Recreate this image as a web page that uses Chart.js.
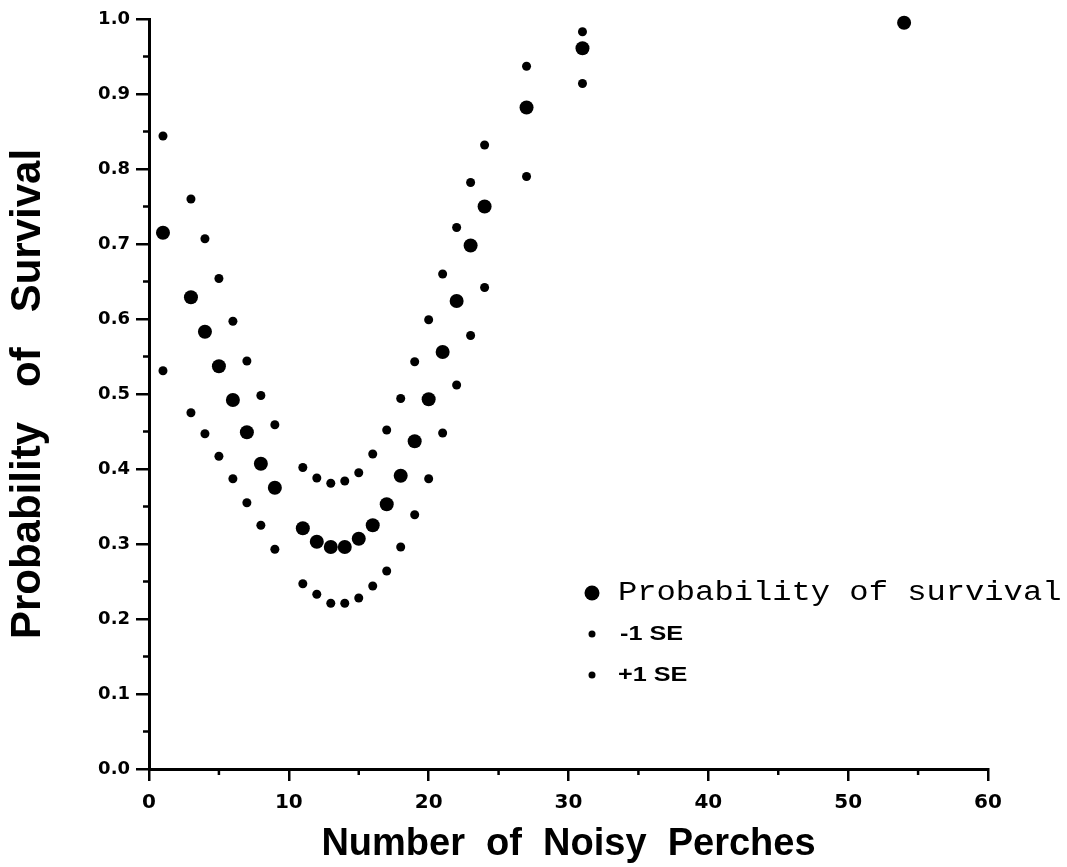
<!DOCTYPE html>
<html>
<head>
<meta charset="utf-8">
<script src="https://cdn.jsdelivr.net/npm/chart.js@4.4.1/dist/chart.umd.min.js"></script>
<style>
  html, body { margin: 0; padding: 0; background: #ffffff; overflow: hidden; }
  canvas { display: block; }
</style>
</head>
<body>
<canvas id="c" width="1067" height="867"></canvas>
<script>
// ---- data ----
const perches = [1, 3, 4, 5, 6, 7, 8, 9, 11, 12, 13, 14, 15, 16, 17, 18, 19, 20, 21, 22, 23, 24, 27, 31, 54];
const survival = [0.715, 0.629, 0.583, 0.537, 0.492, 0.449, 0.407, 0.375, 0.321, 0.303, 0.296, 0.296, 0.307, 0.325, 0.353, 0.391, 0.437, 0.493, 0.556, 0.624, 0.698, 0.750, 0.882, 0.961, 0.995];
const seX = [1, 3, 4, 5, 6, 7, 8, 9, 11, 12, 13, 14, 15, 16, 17, 18, 19, 20, 21, 22, 23, 24, 27, 31];
const minusSE = [0.531, 0.475, 0.447, 0.417, 0.387, 0.355, 0.325, 0.293, 0.247, 0.233, 0.221, 0.221, 0.228, 0.244, 0.264, 0.296, 0.339, 0.387, 0.448, 0.512, 0.578, 0.642, 0.790, 0.914];
const plusSE = [0.844, 0.760, 0.707, 0.654, 0.597, 0.544, 0.498, 0.459, 0.402, 0.388, 0.381, 0.384, 0.395, 0.420, 0.452, 0.494, 0.543, 0.599, 0.660, 0.722, 0.782, 0.832, 0.937, 0.983];

const seriesLabels = ['Probability of survival', '-1 SE', '+1 SE'];
const xTicks = [0, 10, 20, 30, 40, 50, 60];
const xMinorTicks = [5, 15, 25, 35, 45, 55];
const yTicks = [0, 0.1, 0.2, 0.3, 0.4, 0.5, 0.6, 0.7, 0.8, 0.9, 1.0];
const yMinorTicks = [0.05, 0.15, 0.25, 0.35, 0.45, 0.55, 0.65, 0.75, 0.85, 0.95];
const xTitle = 'Number  of  Noisy  Perches';
const yTitle = 'Probability   of   Survival';

const toPoints = (xs, ys) => xs.map((x, i) => ({ x: x, y: ys[i] }));

// minor ticks drawn through the library's scales
const minorTicksPlugin = {
  id: 'minorTicks',
  afterDraw(chart) {
    const ctx = chart.ctx;
    const xs = chart.scales.x, ys = chart.scales.y;
    const area = chart.chartArea;
    ctx.save();
    ctx.strokeStyle = '#000';
    ctx.lineWidth = 2.5;
    ctx.beginPath();
    xMinorTicks.forEach(v => {
      const px = xs.getPixelForValue(v);
      ctx.moveTo(px, area.bottom);
      ctx.lineTo(px, area.bottom + 6);
    });
    yMinorTicks.forEach(v => {
      const py = ys.getPixelForValue(v);
      ctx.moveTo(area.left - 6, py);
      ctx.lineTo(area.left, py);
    });
    ctx.stroke();
    ctx.restore();
  }
};

// custom legend placed inside the plot area, as in the reference
const insideLegendPlugin = {
  id: 'insideLegend',
  afterDraw(chart, args, opts) {
    const ctx = chart.ctx;
    const area = chart.chartArea;
    const x0 = area.left + opts.offsetX;
    const y0 = area.top + opts.offsetY;
    ctx.save();
    chart.data.datasets.forEach((ds, i) => {
      const item = opts.items[i];
      const cy = y0 + i * opts.rowGap;
      ctx.fillStyle = '#000';
      ctx.beginPath();
      ctx.arc(x0, cy, item.r, 0, Math.PI * 2);
      ctx.fill();
      ctx.save();
      ctx.translate(x0 + item.dx, cy);
      ctx.scale(item.sx, 1);
      ctx.font = item.font;
      ctx.textBaseline = 'middle';
      ctx.textAlign = 'left';
      ctx.fillText(ds.label, 0, 0);
      ctx.restore();
    });
    ctx.restore();
  }
};

new Chart(document.getElementById('c'), {
  type: 'scatter',
  data: {
    datasets: [
      { label: seriesLabels[0], data: toPoints(perches, survival), pointRadius: 7, backgroundColor: '#000', borderWidth: 0, pointHoverRadius: 7, clip: false },
      { label: seriesLabels[1], data: toPoints(seX, minusSE), pointRadius: 4.5, backgroundColor: '#000', borderWidth: 0, pointHoverRadius: 4.5, clip: false },
      { label: seriesLabels[2], data: toPoints(seX, plusSE), pointRadius: 4.5, backgroundColor: '#000', borderWidth: 0, pointHoverRadius: 4.5, clip: false }
    ]
  },
  options: {
    responsive: false,
    devicePixelRatio: 1,
    animation: false,
    layout: { padding: { top: 19, right: 79, left: 0, bottom: 0 } },
    plugins: {
      legend: { display: false },
      tooltip: { enabled: false },
      insideLegend: {
        offsetX: 443,
        offsetY: 574,
        rowGap: 41,
        items: [
          { r: 7.5, dx: 26, sx: 1.19, font: '27px "Liberation Mono"' },
          { r: 3.5, dx: 28, sx: 1.2, font: 'bold 21px "Liberation Sans"' },
          { r: 3.5, dx: 26, sx: 1.2, font: 'bold 21px "Liberation Sans"' }
        ]
      }
    },
    scales: {
      x: {
        type: 'linear',
        min: 0, max: 60,
        afterBuildTicks: s => { s.ticks = xTicks.map(v => ({ value: v })); },
        afterFit: s => { s.height = 98; },
        ticks: {
          color: '#000',
          padding: 10,
          font: { family: '"DejaVu Sans"', size: 20, weight: 'bold' },
          callback: v => String(v)
        },
        grid: { drawOnChartArea: false, drawTicks: true, tickLength: 12, tickWidth: 2.5, tickColor: '#000', color: '#000', lineWidth: 2.5 },
        border: { display: true, color: '#000', width: 3 },
        title: {
          display: true, text: xTitle, color: '#000',
          font: { family: '"Liberation Sans"', size: 38, weight: 'bold' },
          padding: { top: 0, bottom: 0 }
        }
      },
      y: {
        type: 'linear',
        min: 0, max: 1,
        afterBuildTicks: s => { s.ticks = yTicks.map(v => ({ value: v })); },
        afterFit: s => { s.width = 149; },
        ticks: {
          color: '#000',
          padding: 6,
          font: { family: '"DejaVu Sans"', size: 18, weight: 'bold' },
          callback: v => Number(v).toFixed(1)
        },
        grid: { drawOnChartArea: false, drawTicks: true, tickLength: 13, tickWidth: 2.5, tickColor: '#000', color: '#000', lineWidth: 2.5 },
        border: { display: true, color: '#000', width: 3 },
        title: {
          display: true, text: yTitle, color: '#000',
          font: { family: '"Liberation Sans"', size: 42, weight: 'bold' },
          padding: { top: 3, bottom: 0 }
        }
      }
    }
  },
  plugins: [minorTicksPlugin, insideLegendPlugin]
});
</script>
</body>
</html>
